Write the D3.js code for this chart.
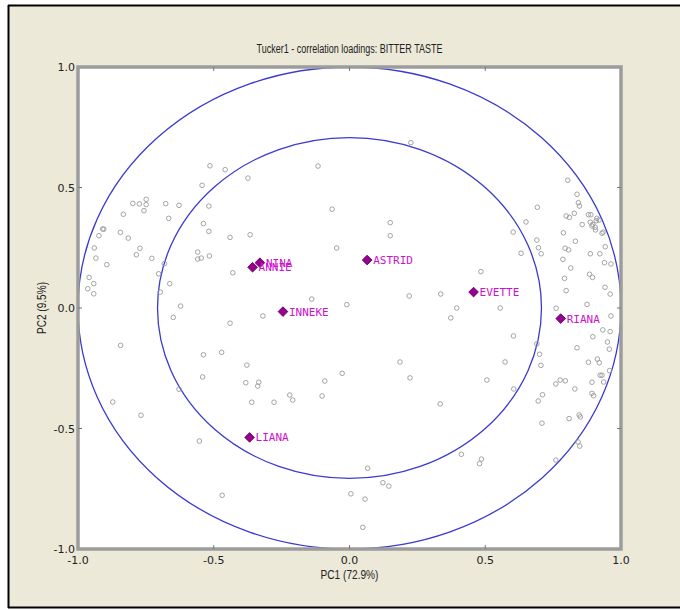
<!DOCTYPE html>
<html>
<head>
<meta charset="utf-8">
<script src="https://cdn.jsdelivr.net/npm/d3@7"></script>
<style>
  body { margin: 0; background: #fff; }
  #container { width: 680px; height: 610px; }
</style>
</head>
<body>
<div id="container"></div>
<script>
const title = "Tucker1 - correlation loadings: BITTER TASTE";
const xLabel = "PC1 (72.9%)";
const yLabel = "PC2 (9.5%)";
const ticks = [-1.0, -0.5, 0.0, 0.5, 1.0];

// grey open circles (variables)
const pointsX = [-0.798,-0.774,-0.749,-0.749,-0.757,-0.833,-0.677,-0.628,-0.666,-0.909,-0.905,-0.923,-0.844,-0.815,-0.940,-0.934,-0.894,-0.772,-0.785,-0.728,-0.682,-0.703,-0.959,-0.942,-0.964,-0.942,-0.662,-0.697,-0.559,-0.559,-0.546,-0.516,-0.622,-0.649,-0.843,-0.628,-0.872,-0.768,
  -0.514,-0.458,-0.374,-0.543,-0.116,0.226,-0.518,-0.064,-0.538,-0.518,-0.440,-0.366,0.150,0.150,-0.047,
  -0.430,-0.139,-0.010,-0.319,-0.440,
  -0.538,-0.471,-0.378,-0.541,-0.382,-0.334,-0.338,-0.360,-0.278,-0.220,-0.209,-0.101,-0.091,-0.027,-0.553,
  0.067,0.123,0.145,0.005,0.057,0.049,0.412,0.486,0.479,-0.469,
  0.484,0.336,0.395,0.373,0.555,0.604,0.792,0.884,0.895,0.941,0.960,0.798,0.875,0.761,0.963,0.933,0.960,0.896,0.220,
  0.804,0.838,0.843,0.847,0.798,0.810,0.828,0.880,0.889,0.857,0.887,0.896,0.893,0.905,0.906,0.911,0.919,0.909,0.930,0.934,0.788,0.832,0.794,0.807,0.942,0.887,0.922,0.786,0.939,0.963,0.815,
  0.692,0.650,0.690,0.696,0.706,0.632,
  0.950,0.838,0.957,0.880,0.913,0.920,0.923,0.930,0.936,0.958,0.776,0.760,0.795,0.830,0.893,0.711,0.695,0.893,0.899,0.846,0.850,0.809,0.700,0.705,0.690,0.709,
  0.603,0.186,0.223,0.334,0.573,0.605,0.506,0.842,0.848,0.760];
const pointsY = [0.434,0.432,0.451,0.429,0.404,0.389,0.433,0.426,0.372,0.328,0.327,0.300,0.314,0.290,0.249,0.207,0.180,0.248,0.221,0.206,0.184,0.142,0.127,0.101,0.080,0.059,0.101,0.066,0.232,0.203,0.207,0.216,0.008,-0.039,-0.155,-0.337,-0.390,-0.445,
  0.590,0.574,0.539,0.509,0.589,0.686,0.423,0.410,0.350,0.318,0.293,0.304,0.354,0.300,0.249,
  0.146,0.037,0.014,-0.033,-0.063,
  -0.194,-0.184,-0.237,-0.286,-0.310,-0.308,-0.324,-0.391,-0.391,-0.361,-0.382,-0.365,-0.303,-0.271,-0.552,
  -0.665,-0.725,-0.739,-0.771,-0.793,-0.910,-0.607,-0.627,-0.646,-0.777,
  0.151,0.058,0.000,-0.041,0.000,-0.116,0.123,0.140,0.127,0.086,0.058,0.072,0.015,-0.001,-0.033,-0.091,-0.098,-0.119,0.050,
  0.530,0.472,0.437,0.423,0.382,0.376,0.393,0.387,0.387,0.346,0.356,0.347,0.340,0.335,0.324,0.372,0.365,0.362,0.310,0.315,0.312,0.277,0.248,0.241,0.254,0.225,0.225,0.202,0.188,0.183,0.166,
  0.418,0.357,0.282,0.250,0.225,0.227,
  -0.141,-0.165,-0.171,-0.225,-0.212,-0.227,-0.279,-0.279,-0.307,-0.260,-0.299,-0.315,-0.302,-0.336,-0.308,-0.360,-0.386,-0.354,-0.364,-0.444,-0.452,-0.459,-0.192,-0.238,-0.149,-0.478,
  0.315,-0.224,-0.290,-0.398,-0.224,-0.336,-0.299,-0.556,-0.573,-0.631];

// purple diamonds (objects)
const objNames = ["NINA", "ANNIE", "ASTRID", "INNEKE", "EVETTE", "RIANA", "LIANA"];
const objX = [-0.330, -0.357, 0.065, -0.245, 0.457, 0.778, -0.368];
const objY = [0.188, 0.169, 0.199, -0.015, 0.066, -0.044, -0.537];

const radii = [1.0, Math.SQRT1_2];

const width = 680, height = 610;
const mLeft = 78, mRight = 621, mTop = 67, mBottom = 549;

const svg = d3.select("#container").append("svg")
    .attr("width", width)
    .attr("height", height);

// window background and border
svg.append("rect").attr("x", 8).attr("y", 6).attr("width", width).attr("height", 601)
    .attr("fill", "#ece9d8");
svg.append("line").attr("x1", 8.5).attr("x2", 8.5).attr("y1", 5).attr("y2", 608)
    .attr("stroke", "#000").attr("stroke-width", 2);
svg.append("line").attr("x1", 8).attr("x2", width).attr("y1", 5.5).attr("y2", 5.5)
    .attr("stroke", "#000").attr("stroke-width", 2);
svg.append("line").attr("x1", 8).attr("x2", width).attr("y1", 607.5).attr("y2", 607.5)
    .attr("stroke", "#000").attr("stroke-width", 2);

const x = d3.scaleLinear().domain([-1, 1]).range([mLeft, mRight]);
const y = d3.scaleLinear().domain([-1, 1]).range([mBottom, mTop]);

svg.append("rect")
    .attr("x", mLeft).attr("y", mTop)
    .attr("width", mRight - mLeft).attr("height", mBottom - mTop)
    .attr("fill", "#fff");

const plot = svg.append("g");

// correlation circles (ellipses because of unequal scales)
plot.selectAll("ellipse.ring")
    .data(radii)
    .enter().append("ellipse")
    .attr("class", "ring")
    .attr("cx", x(0)).attr("cy", y(0))
    .attr("rx", d => x(d) - x(0))
    .attr("ry", d => y(0) - y(d))
    .attr("fill", "none")
    .attr("stroke", "#3a3ad0")
    .attr("stroke-width", 1.3);

const pts = pointsX.map((v, i) => ({x: v, y: pointsY[i]}));
plot.selectAll("circle.var")
    .data(pts)
    .enter().append("circle")
    .attr("class", "var")
    .attr("cx", d => x(d.x))
    .attr("cy", d => y(d.y))
    .attr("r", 2.3)
    .attr("fill", "none")
    .attr("stroke", "#9a9a9a")
    .attr("stroke-width", 0.9);

const objs = objNames.map((n, i) => ({name: n, x: objX[i], y: objY[i]}));
const obj = plot.selectAll("g.obj")
    .data(objs)
    .enter().append("g")
    .attr("class", "obj")
    .attr("transform", d => "translate(" + x(d.x) + "," + y(d.y) + ")");

obj.append("path")
    .attr("d", d3.symbol(d3.symbolDiamond2, 60))
    .attr("fill", "#99008f")
    .attr("stroke", "#4a004a")
    .attr("stroke-width", 0.8);

obj.append("text")
    .attr("x", 6)
    .attr("y", 4)
    .attr("fill", "#cc11cc")
    .style("font-family", "'DejaVu Sans Mono', monospace")
    .style("font-size", "11px")
    .text(d => d.name);

// frame
svg.append("rect")
    .attr("x", mLeft).attr("y", mTop)
    .attr("width", mRight - mLeft).attr("height", mBottom - mTop)
    .attr("fill", "none")
    .attr("stroke", "#9c9c9c")
    .attr("stroke-width", 3.5);

// inward tick marks
const tickLen = 4;
ticks.slice(1, -1).forEach(t => {
  svg.append("line").attr("x1", x(t)).attr("x2", x(t)).attr("y1", mTop).attr("y2", mTop + tickLen).attr("stroke", "#777");
  svg.append("line").attr("x1", x(t)).attr("x2", x(t)).attr("y1", mBottom).attr("y2", mBottom - tickLen).attr("stroke", "#777");
  svg.append("line").attr("y1", y(t)).attr("y2", y(t)).attr("x1", mLeft).attr("x2", mLeft + tickLen).attr("stroke", "#777");
  svg.append("line").attr("y1", y(t)).attr("y2", y(t)).attr("x1", mRight).attr("x2", mRight - tickLen).attr("stroke", "#777");
});

const fmt = d3.format(".1f");
const tickFont = "'DejaVu Sans', sans-serif";

svg.selectAll("text.xt")
    .data(ticks)
    .enter().append("text")
    .attr("class", "xt")
    .attr("x", d => x(d))
    .attr("y", mBottom + 15)
    .attr("text-anchor", "middle")
    .style("font-family", tickFont)
    .style("font-size", "11px")
    .attr("fill", "#222")
    .text(d => fmt(d).replace("−", "-"));

svg.selectAll("text.yt")
    .data(ticks)
    .enter().append("text")
    .attr("class", "yt")
    .attr("x", mLeft - 3)
    .attr("y", d => y(d) + 4)
    .attr("text-anchor", "end")
    .style("font-family", tickFont)
    .style("font-size", "11px")
    .attr("fill", "#222")
    .text(d => fmt(d).replace("−", "-"));

svg.append("text")
    .attr("x", x(0))
    .attr("y", 53)
    .attr("text-anchor", "middle")
    .attr("textLength", 186)
    .attr("lengthAdjust", "spacingAndGlyphs")
    .style("font-family", "'Liberation Sans', Arial, sans-serif")
    .style("font-size", "12px")
    .attr("fill", "#222")
    .text(title);

svg.append("text")
    .attr("x", x(0))
    .attr("y", 579)
    .attr("text-anchor", "middle")
    .attr("textLength", 58)
    .attr("lengthAdjust", "spacingAndGlyphs")
    .style("font-family", "'Liberation Sans', Arial, sans-serif")
    .style("font-size", "12px")
    .attr("fill", "#222")
    .text(xLabel);

svg.append("text")
    .attr("transform", "translate(46," + y(0) + ") rotate(-90)")
    .attr("text-anchor", "middle")
    .attr("textLength", 52)
    .attr("lengthAdjust", "spacingAndGlyphs")
    .style("font-family", "'Liberation Sans', Arial, sans-serif")
    .style("font-size", "12px")
    .attr("fill", "#222")
    .text(yLabel);
</script>
</body>
</html>
